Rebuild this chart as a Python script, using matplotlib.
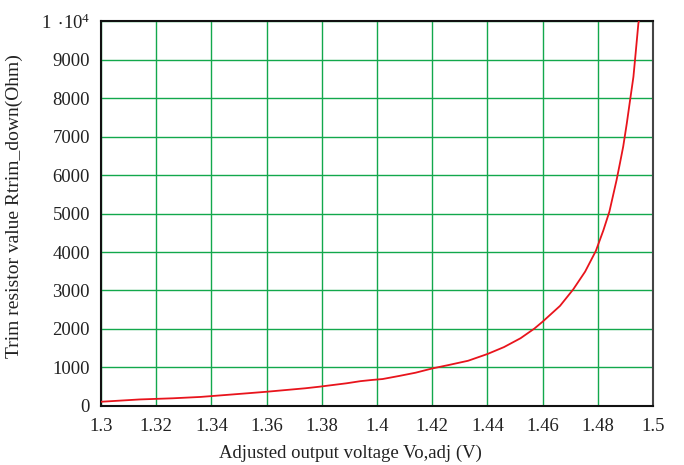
import matplotlib
matplotlib.use("Agg")
import matplotlib.pyplot as plt

plt.rcParams['font.family'] = ['Liberation Serif', 'DejaVu Serif']
plt.rcParams['mathtext.fontset'] = 'custom'
plt.rcParams['mathtext.rm'] = 'Liberation Serif'

# values
vo = [1.300, 1.314, 1.326, 1.336, 1.345, 1.353, 1.360, 1.367, 1.374, 1.379,
      1.384, 1.389, 1.394, 1.398, 1.402, 1.408, 1.414, 1.420, 1.426, 1.433,
      1.440, 1.446, 1.452, 1.457, 1.460, 1.4663, 1.4711, 1.4754, 1.4793, 1.482,
      1.4842, 1.4868, 1.488, 1.4892, 1.4905, 1.4917, 1.4929, 1.4937, 1.4947, 1.4949]
rtrim = [110, 170, 200, 235, 285, 330, 370, 415, 460, 500,
         545, 590, 645, 675, 700, 780, 865, 975, 1065, 1175,
         1350, 1530, 1760, 2010, 2190, 2600, 3030, 3490, 4030, 4560,
         5050, 5870, 6300, 6740, 7340, 7950, 8550, 9160, 9940, 10000]

xticks = [1.3, 1.32, 1.34, 1.36, 1.38, 1.4, 1.42, 1.44, 1.46, 1.48, 1.5]
xlabels = ['1.3', '1.32', '1.34', '1.36', '1.38', '1.4', '1.42', '1.44', '1.46', '1.48', '1.5']
yticks = [0, 1000, 2000, 3000, 4000, 5000, 6000, 7000, 8000, 9000, 10000]
ylabels = ['0', '1000', '2000', '3000', '4000', '5000', '6000', '7000', '8000', '9000',
           r'$\mathregular{1\,\cdot\!10^{4}}$']

grid_green = '#12a84c'

fig = plt.figure(figsize=(6.84, 4.65), dpi=100)
ax = fig.add_axes([0.1477, 0.1269, 0.807, 0.8279])

ax.plot(vo, rtrim, color='#e8141c', lw=1.3, zorder=3)

ax.set_xlim(1.3, 1.5)
ax.set_ylim(0, 10000)
ax.set_xticks(xticks)
ax.set_xticklabels(xlabels)
ax.set_yticks(yticks)
ax.set_yticklabels(ylabels)
ax.tick_params(length=0, labelsize=13.5, colors='#222222')
ax.tick_params(axis='y', pad=8)
ax.tick_params(axis='x', pad=9)
ax.grid(True, color=grid_green, lw=1.0)

for side in ['left', 'bottom', 'top']:
    ax.spines[side].set_color('#111111')
    ax.spines[side].set_linewidth(1.5)
ax.spines['right'].set_color('#444444')
ax.spines['right'].set_linewidth(1.5)

ax.set_xlabel('Adjusted output voltage Vo,adj (V)', fontsize=13.5, color='#222222')
ax.set_ylabel('Trim resistor value Rtrim_down(Ohm)', fontsize=14, color='#222222')
ax.xaxis.set_label_coords(0.451, -0.1)
ax.yaxis.set_label_coords(-0.142, 0.519)

fig.savefig('out.png', dpi=100)
